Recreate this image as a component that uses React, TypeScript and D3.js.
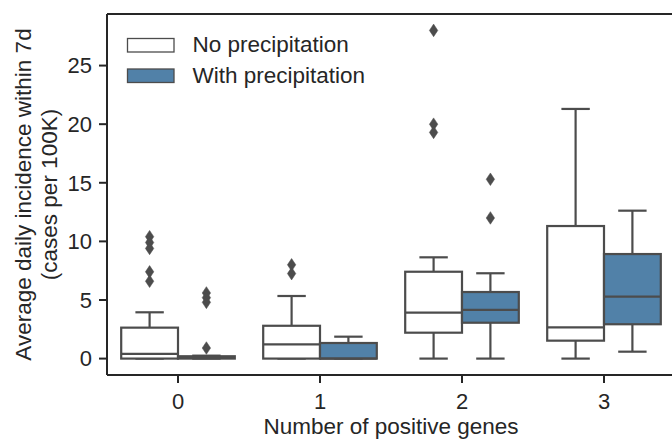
import React from "react";
import * as d3 from "d3";

const categories = ["0", "1", "2", "3"];
const hues = ["No precipitation", "With precipitation"];
const hueColors = ["#ffffff", "#5181a8"];

// No precipitation
const noWhiskLow = [0, 0, 0, 0];
const noQ1 = [0, 0, 2.21, 1.53];
const noMedian = [0.4, 1.22, 3.92, 2.67];
const noQ3 = [2.64, 2.8, 7.41, 11.31];
const noWhiskHigh = [3.95, 5.34, 8.64, 21.3];
const noOutliers = [[10.4, 9.9, 9.4, 7.4, 6.6], [8.0, 7.25], [28.0, 20.0, 19.3], []];

// With precipitation
const withWhiskLow = [0, 0, 0, 0.59];
const withQ1 = [0, 0, 3.06, 2.93];
const withMedian = [0.05, 0, 4.15, 5.28];
const withQ3 = [0.2, 1.33, 5.68, 8.92];
const withWhiskHigh = [0.25, 1.87, 7.28, 12.62];
const withOutliers = [[5.6, 5.2, 4.8, 0.9], [], [15.3, 12.0], []];

const yTicks = [0, 5, 10, 15, 20, 25];
const xLabel = "Number of positive genes";
const yLabel1 = "Average daily incidence within 7d";
const yLabel2 = "(cases per 100K)";

const W = 672;
const H = 439;
const left = 107, right = 675, top = 14, bottom = 375;
const FONT = "'Liberation Sans', Arial, Helvetica, sans-serif";
const GRAY = "#4c4c4c";
const TEXT = "#262626";

export default function App() {
  const x = d3.scaleLinear().domain([-0.5, 3.5]).range([left, right]);
  const y = d3.scaleLinear().domain([-1.4, 29.4]).range([bottom, top]);
  const boxW = x(0.4) - x(0);
  const capW = boxW / 2;

  const groups = [
    { lo: noWhiskLow, q1: noQ1, med: noMedian, q3: noQ3, hi: noWhiskHigh, out: noOutliers },
    { lo: withWhiskLow, q1: withQ1, med: withMedian, q3: withQ3, hi: withWhiskHigh, out: withOutliers },
  ];

  const diamond = (cx: number, cy: number) =>
    `M${cx},${cy - 6.3}L${cx + 4.2},${cy}L${cx},${cy + 6.3}L${cx - 4.2},${cy}Z`;

  return (
    <svg width={W} height={H} style={{ position: "fixed", left: 0, top: 0, background: "#fff" }} fontFamily={FONT}>
      <rect x={0} y={0} width={W} height={H} fill="#fff" />
      {categories.map((c, i) =>
        groups.map((g, h) => {
          const x0 = x(i) + (h === 0 ? -boxW : 0);
          const cx = x0 + boxW / 2;
          return (
            <g key={`${c}-${h}`}>
              <line x1={cx} x2={cx} y1={y(g.q3[i])} y2={y(g.hi[i])} stroke={GRAY} strokeWidth={2.2} />
              <line x1={cx} x2={cx} y1={y(g.q1[i])} y2={y(g.lo[i])} stroke={GRAY} strokeWidth={2.2} />
              <line x1={cx - capW / 2} x2={cx + capW / 2} y1={y(g.hi[i])} y2={y(g.hi[i])} stroke={GRAY} strokeWidth={2.2} />
              <line x1={cx - capW / 2} x2={cx + capW / 2} y1={y(g.lo[i])} y2={y(g.lo[i])} stroke={GRAY} strokeWidth={2.2} />
              <rect x={x0} y={y(g.q3[i])} width={boxW} height={Math.max(0, y(g.q1[i]) - y(g.q3[i]))}
                fill={hueColors[h]} stroke={GRAY} strokeWidth={2.2} />
              <line x1={x0} x2={x0 + boxW} y1={y(g.med[i])} y2={y(g.med[i])} stroke={GRAY} strokeWidth={2.2} />
              {g.out[i].map((v, k) => (
                <path key={k} d={diamond(cx, y(v))} fill={GRAY} stroke={GRAY} strokeWidth={0.5} />
              ))}
            </g>
          );
        })
      )}
      <line x1={left} x2={left} y1={top} y2={bottom} stroke={TEXT} strokeWidth={2} />
      <line x1={left} x2={right} y1={bottom} y2={bottom} stroke={TEXT} strokeWidth={2} />
      <line x1={left} x2={right} y1={top} y2={top} stroke={TEXT} strokeWidth={2} />
      <line x1={right} x2={right} y1={top} y2={bottom} stroke={TEXT} strokeWidth={2} />
      {yTicks.map((t) => (
        <g key={t}>
          <line x1={left - 8} x2={left} y1={y(t)} y2={y(t)} stroke={TEXT} strokeWidth={2} />
          <text x={92} y={y(t) + 7.8} textAnchor="end" fontSize={22} fill={TEXT}>{t}</text>
        </g>
      ))}
      {categories.map((c, i) => (
        <g key={c}>
          <line x1={x(i)} x2={x(i)} y1={bottom} y2={bottom + 8} stroke={TEXT} strokeWidth={2} />
          <text x={x(i)} y={408.5} textAnchor="middle" fontSize={22} fill={TEXT}>{c}</text>
        </g>
      ))}
      <text x={(left + right) / 2} y={434} textAnchor="middle" fontSize={22.5} fill={TEXT}>{xLabel}</text>
      <g transform={`translate(31, ${(top + bottom) / 2}) rotate(-90)`}>
        <text x={0} y={0} textAnchor="middle" fontSize={22.5} fill={TEXT}>{yLabel1}</text>
      </g>
      <g transform={`translate(57, ${(top + bottom) / 2}) rotate(-90)`}>
        <text x={0} y={0} textAnchor="middle" fontSize={22.5} fill={TEXT}>{yLabel2}</text>
      </g>
      {hues.map((hname, h) => (
        <g key={hname}>
          <rect x={127.5} y={h === 0 ? 38.5 : 69} width={46.5} height={13.5} fill={hueColors[h]} stroke={GRAY} strokeWidth={1.3} />
          <text x={192.5} y={h === 0 ? 51.8 : 83.3} fontSize={22.5} fill={TEXT}>{hname}</text>
        </g>
      ))}
    </svg>
  );
}
